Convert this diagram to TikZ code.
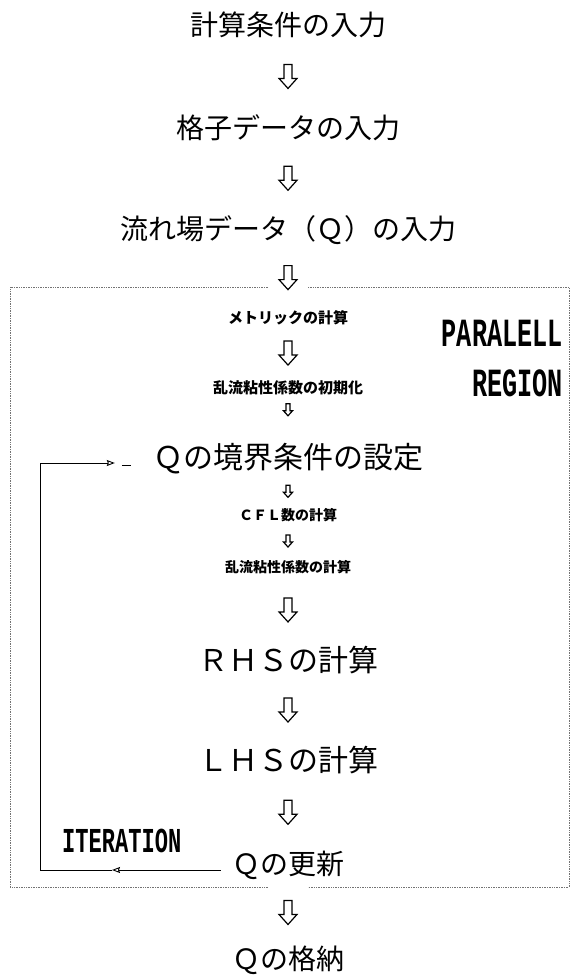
\documentclass[tikz,border=0pt]{standalone}
\usepackage{fontspec}
\usepackage{graphicx}
\setmainfont{Liberation Serif}
\newfontfamily\jp{Noto Sans CJK JP}
\newfontfamily\monofam{Liberation Mono}
\usetikzlibrary{calc,arrows.meta}
\newcommand\condensed[1]{\scalebox{0.63}[1]{#1}}
% hollow down arrow between two nodes: [fraction]{from}{to}{size}
\newcommand\hdown[4][0.5]{%
  \path ($(#2.south)!#1!(#3.north)$) coordinate (hmid);
  \draw[harrow] ([shift={(-4*#4,-12*#4)}]hmid) -- ([shift={(4*#4,-12*#4)}]hmid)
    -- ([shift={(4*#4,2*#4)}]hmid) -- ([shift={(9*#4,2*#4)}]hmid)
    -- ([shift={(0,12*#4)}]hmid) -- ([shift={(-9*#4,2*#4)}]hmid)
    -- ([shift={(-4*#4,2*#4)}]hmid) -- cycle;}
\begin{document}
\begin{tikzpicture}[x=1pt,y=-1pt,
  big/.style={font=\jp\fontsize{28}{28}\selectfont, inner sep=0pt},
  bigger/.style={font=\jp\fontsize{30}{30}\selectfont, inner sep=0pt},
  small/.style={font=\jp\bfseries\fontsize{15}{15}\selectfont, inner sep=0pt},
  label/.style={font=\monofam\bfseries\fontsize{40}{40}\selectfont, inner sep=0pt},
  harrow/.style={draw=black, line width=1.2pt, line join=miter, fill=white},
  loopline/.style={draw=black, line width=0.9pt},
  regionline/.style={draw=black!55, densely dotted, line width=0.7pt},
  opentip/.style={-{Stealth[open,length=8pt,width=6pt,inset=1pt]}}]
\useasboundingbox (0,0) rectangle (572,979);
% parallel region box
\draw[regionline] (268,287) -- (10,287) -- (10,887) -- (268,887);
\draw[regionline] (308,287) -- (569,287) -- (569,887) -- (308,887);
% nodes
\node[big] (t1) at (288,25) {計算条件の入力};
\node[big] (t2) at (288,128) {格子データの入力};
\node[big] (t3) at (288,230) {流れ場データ（Ｑ）の入力};
\node[small] (met) at (288,318) {メトリックの計算};
\node[small] (ini) at (288,388) {乱流粘性係数の初期化};
\node[bigger] (bc) at (288,459) {Ｑの境界条件の設定};
\node[small, font=\jp\bfseries\fontsize{14}{14}\selectfont] (cfl) at (288,515) {ＣＦＬ数の計算};
\node[small, font=\jp\bfseries\fontsize{14}{14}\selectfont] (tv) at (288,567) {乱流粘性係数の計算};
\node[bigger] (rhs) at (288,660) {ＲＨＳの計算};
\node[bigger] (lhs) at (288,760) {ＬＨＳの計算};
\node[big] (upd) at (288,865) {Ｑの更新};
\node[big] (sto) at (288,960) {Ｑの格納};
\node[label, anchor=east] (par) at (563,333) {\condensed{PARALELL}};
\node[label, anchor=east] (reg) at (563,383) {\condensed{REGION}};
\node[label, font=\monofam\bfseries\fontsize{35}{35}\selectfont, anchor=west] (itr) at (62,841) {\condensed{ITERATION}};
% flow arrows
\hdown{t1}{t2}{1}
\hdown{t2}{t3}{1}
\hdown{t3}{met}{1}
\hdown{met}{ini}{1}
\hdown[0.3]{ini}{bc}{0.5}
\hdown{bc}{cfl}{0.5}
\hdown{cfl}{tv}{0.5}
\hdown{tv}{rhs}{1}
\hdown{rhs}{lhs}{1}
\hdown{lhs}{upd}{1}
\hdown{upd}{sto}{1}
% iteration loop
\coordinate (lb) at (40,870);
\coordinate (lt) at (40,463);
\coordinate (mtip) at (112,870);
\draw[loopline, opentip] ([xshift=-11pt,yshift=-5pt]upd.west) -- (mtip);
\draw[loopline] (mtip) -- (lb) -- (lt) -- ([xshift=-52pt,yshift=-4pt]bc.west);
\draw[loopline, opentip] ([xshift=-52pt,yshift=-4pt]bc.west) -- ([xshift=-38pt,yshift=-4pt]bc.west);
\draw[loopline] ([xshift=-31pt,yshift=-6pt]bc.west) -- ([xshift=-22pt,yshift=-6pt]bc.west);
\end{tikzpicture}
\end{document}
